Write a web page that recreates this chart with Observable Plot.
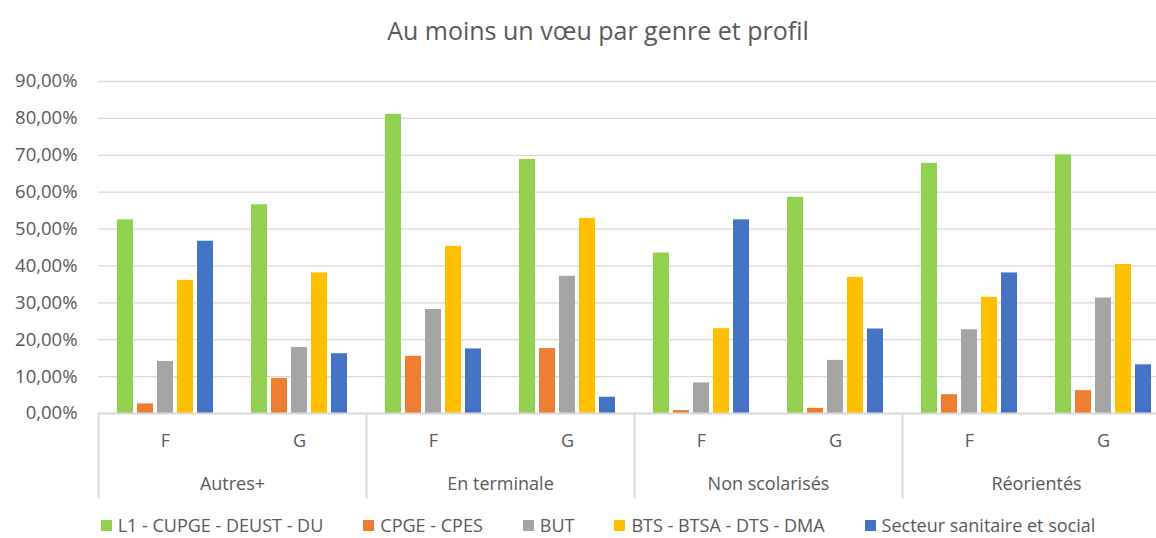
<!DOCTYPE html>
<html>
<head>
<meta charset="utf-8">
<script src="https://cdn.jsdelivr.net/npm/d3@7"></script>
<script src="https://cdn.jsdelivr.net/npm/@observablehq/plot@0.6"></script>
<style>
  html, body { margin: 0; padding: 0; overflow: hidden; background: white; }
  #wrap { width: 1196px; font-family: "Open Sans", sans-serif; color: #595959; }
  #title { height: 60px; line-height: 60px; text-align: center; font-size: 25px; }
  #legend { display: flex; justify-content: center; align-items: center; gap: 40px; padding-top: 10px; font-size: 18px; line-height: 20px; height: 20px; }
  .item { display: inline-flex; align-items: center; }
  .sw { width: 11px; height: 11px; margin-right: 6px; display: inline-block; }
</style>
</head>
<body>
<div id="wrap">
  <div id="title">Au moins un vœu par genre et profil</div>
  <div id="chart"></div>
  <div id="legend"></div>
</div>
<script>
const groups = ["Autres+", "En terminale", "Non scolarisés", "Réorientés"];
const sexes = ["F", "G"];
const series = ["L1 - CUPGE - DEUST - DU", "CPGE - CPES", "BUT", "BTS - BTSA - DTS - DMA", "Secteur sanitaire et social"];
const colors = ["#92d050", "#ed7d31", "#a5a5a5", "#ffc000", "#4472c4"];
const yTicks = [0, 0.1, 0.2, 0.3, 0.4, 0.5, 0.6, 0.7, 0.8, 0.9];

// values (%) in order: Autres+ F, Autres+ G, En terminale F, En terminale G, Non scolarisés F, Non scolarisés G, Réorientés F, Réorientés G
const l1Values      = [52.5, 56.6, 81.1, 68.9, 43.5, 58.6, 67.8, 70.1];
const cpgeValues    = [2.6, 9.5, 15.5, 17.6, 0.8, 1.4, 5.1, 6.2];
const butValues     = [14.1, 17.9, 28.2, 37.2, 8.3, 14.4, 22.7, 31.3];
const btsValues     = [36.1, 38.1, 45.3, 52.9, 23.0, 36.9, 31.5, 40.4];
const secteurValues = [46.7, 16.2, 17.5, 4.4, 52.5, 22.9, 38.1, 13.2];
const seriesValues = [l1Values, cpgeValues, butValues, btsValues, secteurValues];

const keys = groups.flatMap(g => sexes.map(s => g + "|" + s));
const table = [];
groups.forEach((g, gi) => sexes.forEach((s, si) => series.forEach((name, k) => {
  table.push({key: g + "|" + s, group: g, sex: s, series: name, value: seriesValues[k][gi * 2 + si] / 100});
})));

const pct = d => (d * 100).toFixed(2).replace(".", ",") + "%";
const lineShape = {draw(context, l) { context.moveTo(0, 0); context.lineTo(0, -l); }};

const chart = Plot.plot({
  width: 1196,
  height: 445,
  marginTop: 21,
  marginBottom: 92,
  marginLeft: 96,
  marginRight: 25,
  style: {fontFamily: "'Open Sans', sans-serif", fontSize: "16px", color: "#595959", background: "white", overflow: "visible", maxWidth: "none"},
  fx: {domain: keys, padding: 0, axis: null},
  x: {domain: series, paddingInner: 0.22, paddingOuter: 0.87, axis: null},
  y: {domain: [0, 0.9], axis: null},
  color: {domain: series, range: colors},
  marks: [
    Plot.gridY(yTicks.filter(t => t > 0), {stroke: "#d9d9d9", strokeOpacity: 1, strokeWidth: 1.3}),
    Plot.barY(table, {fx: "key", x: "series", y: "value", fill: "series"}),
    Plot.ruleY([0], {stroke: "#d9d9d9", strokeWidth: 2}),
    Plot.axisY(yTicks, {anchor: "left", tickSize: 0, tickPadding: 21, tickFormat: pct, fontSize: 18.5, fill: "#595959", label: null}),
    Plot.axisFx({anchor: "bottom", tickSize: 0, tickPadding: 21, tickFormat: k => k.split("|")[1], fontSize: 18, fill: "#595959", label: null}),
    Plot.text(groups, {fx: g => g + "|F", frameAnchor: "bottom-right", dy: 71, text: d => d, textAnchor: "middle", lineAnchor: "middle", fontSize: 18, fill: "#595959"}),
    Plot.vector(groups, {fx: g => g + "|F", frameAnchor: "bottom-left", length: 85, rotate: 180, anchor: "start", shape: lineShape, stroke: "#d9d9d9", strokeWidth: 2, strokeLinecap: "butt"})
  ]
});
document.getElementById("chart").appendChild(chart);

const legend = d3.select("#legend");
series.forEach((name, i) => {
  const item = legend.append("span").attr("class", "item");
  item.append("span").attr("class", "sw").style("background", colors[i]);
  item.append("span").text(name);
});
</script>
</body>
</html>
